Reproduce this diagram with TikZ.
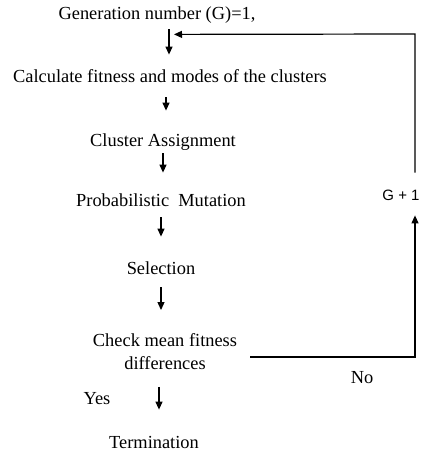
\documentclass[tikz,border=0pt]{standalone}
\usepackage{fontspec}
\setmainfont{Liberation Serif}
\newfontfamily\gfont{Liberation Sans}
\usetikzlibrary{positioning,arrows.meta,calc}

\begin{document}
\begin{tikzpicture}[
  x=0.5pt, y=-0.5pt,
  every node/.style={font=\fontsize{9.2}{11.5}\selectfont, inner sep=0pt},
  stage/.style={align=center, text height=7pt, text depth=2pt},
  cond/.style={align=center},
  lbl/.style={text height=7pt, text depth=2pt},
  arr/.style={-{Triangle[length=4pt,width=3.5pt]}, line width=0.6pt}
]
\useasboundingbox (0,0) rectangle (420,455);

% stages
\node[stage] (gen) at (157,14) {Generation number (G)=1,};
\node[stage] (calc) at (170,77) {Calculate fitness and modes of the clusters};
\node[stage] (assign) at (163,141) {Cluster Assignment};
\node[stage] (mut) at (161,201) {Probabilistic\ \ Mutation};
\node[stage] (sel) at (161,269) {Selection};
\node[cond] (check) at (165,351.5) {Check mean fitness\\differences};
\node[stage] (term) at (154,443) {Termination};

% short arrows down the chain
\draw[arr, shorten <=3pt, shorten >=6.5pt] ($(gen.south)+(12,0)$) coordinate (a1) -- (a1 |- calc.north);
\draw[arr, shorten <=5.5pt, shorten >=10.5pt] ($(calc.south)+(-4,0)$) coordinate (a2) -- (a2 |- assign.north);
\draw[arr, shorten <=1.5pt, shorten >=9.5pt] (assign.south) -- (assign.south |- mut.north);
\draw[arr, shorten <=3.5pt, shorten >=11.5pt] (mut.south) -- (mut.south |- sel.north);
\draw[arr, shorten <=4.5pt, shorten >=11.5pt] (sel.south) -- (sel.south |- check.north);
\draw[arr, shorten <=8.5pt, shorten >=12pt] ($(check.south)+(-6,0)$) coordinate (a6) -- (a6 |- term.north);

% loop back
\coordinate (join) at ($(gen.south)+(12,11)$);
\coordinate (loop) at (415,357);
\coordinate (top) at (415,34);
\node[font=\gfont\fontsize{7.5}{9}\selectfont, text height=6pt, text depth=0pt] (gp) at (401,194) {G + 1};
\draw[arr, shorten <=6.5pt, shorten >=7.5pt] (check.east |- loop) -- (loop) -- (loop |- gp.south);
\draw[arr, shorten <=7.5pt, shorten >=2.5pt] (loop |- gp.north) -- (top) -- (join);

% branch labels
\node[lbl] (no) at (362,378) {No};
\node[lbl] (yes) at (97,399) {Yes};
\end{tikzpicture}
\end{document}
